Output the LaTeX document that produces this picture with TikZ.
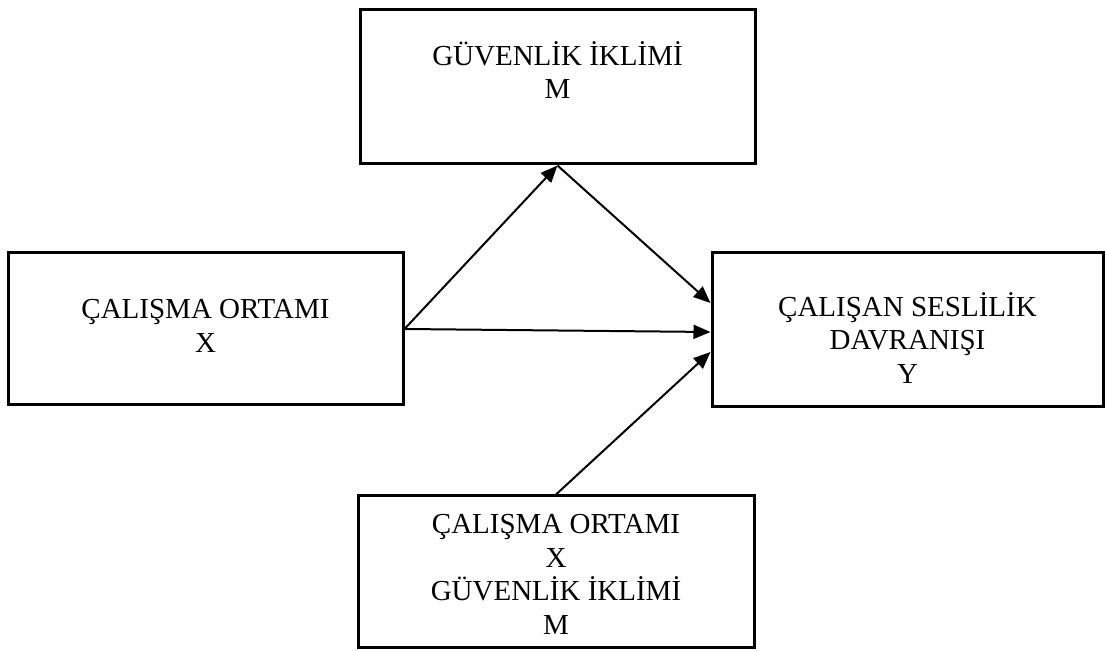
\documentclass[tikz,border=0pt]{standalone}
\usepackage{fontspec}
\setmainfont{Liberation Serif}
\usetikzlibrary{arrows.meta}
\tikzset{box/.style={rectangle,draw,line width=1.5pt,minimum width=197.5pt,minimum height=77pt,inner sep=0pt},
    lbl/.style={align=center,font=\fontsize{14.5}{16.75}\selectfont,inner sep=0pt}}

\begin{document}
\begin{tikzpicture}[x=0.5pt,y=-0.5pt,>={Triangle[length=8.5pt,width=7pt]}]
    \useasboundingbox (0,0) rectangle (1105,651);
    \node[box] (iklim)at (557.5,87) {};
    \node[box,minimum height=76pt] (ortam)at (205.5,329) {};
    \node[box,minimum width=195.5pt] (ses)at (907.5,330) {};
    \node[box,minimum width=198pt,minimum height=76pt] (etk)at (556,572) {};

    \node[lbl,yshift=8.5pt] (iklimt)at (iklim) {GÜVENLİK İKLİMİ\\M};
    \node[lbl,yshift=1.5pt] (ortamt)at (ortam) {ÇALIŞMA ORTAMI\\X};
    \node[lbl,yshift=-4pt] (sest)at (ses) {ÇALIŞAN SESLİLİK\\DAVRANIŞI\\Y};
    \node[lbl,yshift=-1.25pt] (etkt)at (etk) {ÇALIŞMA ORTAMI\\X\\GÜVENLİK İKLİMİ\\M};

    \draw [->,line width=1pt] (ortam.east) to (iklim.south);
    \draw [->,line width=1pt] (iklim.south) to ([yshift=13.5pt]ses.west);
    \draw [->,line width=1pt] (ortam.east) to ([yshift=-1pt]ses.west);
    \draw [->,line width=1pt] (etk.north) to ([yshift=-11pt]ses.west);
\end{tikzpicture}
\end{document}
